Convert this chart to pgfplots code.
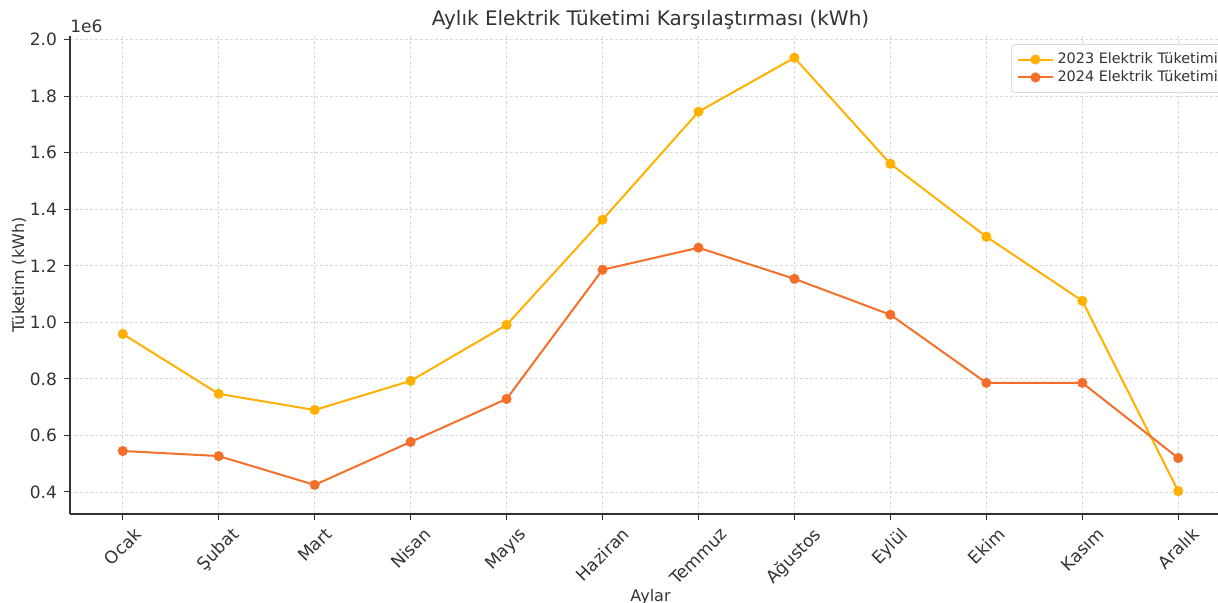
\documentclass[border=0pt]{standalone}
\usepackage{pgfplots}
\pgfplotsset{compat=1.18}
\usepackage{fontspec}
\setmainfont{DejaVu Sans}
\definecolor{c23}{HTML}{FFB000}
\definecolor{c24}{HTML}{F4702A}
\definecolor{txt}{HTML}{333333}
\begin{document}
\begin{tikzpicture}
\useasboundingbox (0,0) rectangle (609pt,301pt);
\clip (0,0) rectangle (609pt,301pt);
\begin{axis}[
  at={(35pt,44pt)}, anchor=south west,
  scale only axis, width=580.5pt, height=239pt,
  xmin=-0.55, xmax=11.55, ymin=0.322, ymax=2.013,
  axis x line*=bottom, axis y line*=left,
  axis line style={line width=0.6pt, color=txt},
  xtick={0,...,11},
  xticklabels={\rotatebox{45}{Ocak},\rotatebox{45}{Şubat},\rotatebox{45}{Mart},\rotatebox{45}{Nisan},\rotatebox{45}{Mayıs},\rotatebox{45}{Haziran},\rotatebox{45}{Temmuz},\rotatebox{45}{Ağustos},\rotatebox{45}{Eylül},\rotatebox{45}{Ekim},\rotatebox{45}{Kasım},\rotatebox{45}{Aralık}},
  xticklabel style={anchor=north, font=\fontsize{8.6pt}{9pt}\selectfont, color=txt, inner sep=1pt, yshift=-2pt},
  ytick={0.4,0.6,...,2.0},
  yticklabel style={font=\fontsize{8.5pt}{9pt}\selectfont, color=txt, /pgf/number format/fixed, /pgf/number format/fixed zerofill, /pgf/number format/precision=1},
  /pgf/number format/assume math mode=true,
  tick align=outside, tick style={color=txt, line width=0.5pt}, major tick length=3pt,
  grid=major, grid style={dash pattern=on 1.5pt off 1pt, color=gray!30, line width=0.4pt},
  title={Aylık Elektrik Tüketimi Karşılaştırması (kWh)},
  title style={font=\fontsize{10pt}{11pt}\selectfont, color=txt, yshift=-6.5pt},
  xlabel={Aylar}, ylabel={Tüketim (kWh)},
  xlabel style={font=\fontsize{8pt}{9pt}\selectfont, color=txt, yshift=3.5pt},
  ylabel style={font=\fontsize{8pt}{9pt}\selectfont, color=txt, yshift=-5pt},
  legend style={at={(0.8105,0.983)}, anchor=north west, font=\fontsize{7.2pt}{8pt}\selectfont, draw=gray!30, rounded corners=1.5pt, fill=white, text=txt, row sep=-2pt},
  legend cell align=left,
  clip=false,
]
\addplot[c23, line width=1pt, mark=*, mark size=2pt, mark options={fill=c23, draw=c23}] coordinates {
(0,0.959) (1,0.747) (2,0.690) (3,0.793) (4,0.991) (5,1.363) (6,1.745) (7,1.936) (8,1.561) (9,1.303) (10,1.076) (11,0.403)};
\addlegendentry{2023 Elektrik Tüketimi}
\addplot[c24, line width=1pt, mark=*, mark size=2pt, mark options={fill=c24, draw=c24}] coordinates {
(0,0.545) (1,0.527) (2,0.425) (3,0.577) (4,0.729) (5,1.186) (6,1.264) (7,1.154) (8,1.027) (9,0.786) (10,0.786) (11,0.520)};
\addlegendentry{2024 Elektrik Tüketimi}
\node[anchor=south west, font=\fontsize{8.5pt}{9pt}\selectfont, color=txt, inner sep=0pt] at ([yshift=1.5pt]rel axis cs:0,1) {1e6};
\end{axis}
\end{tikzpicture}
\end{document}
